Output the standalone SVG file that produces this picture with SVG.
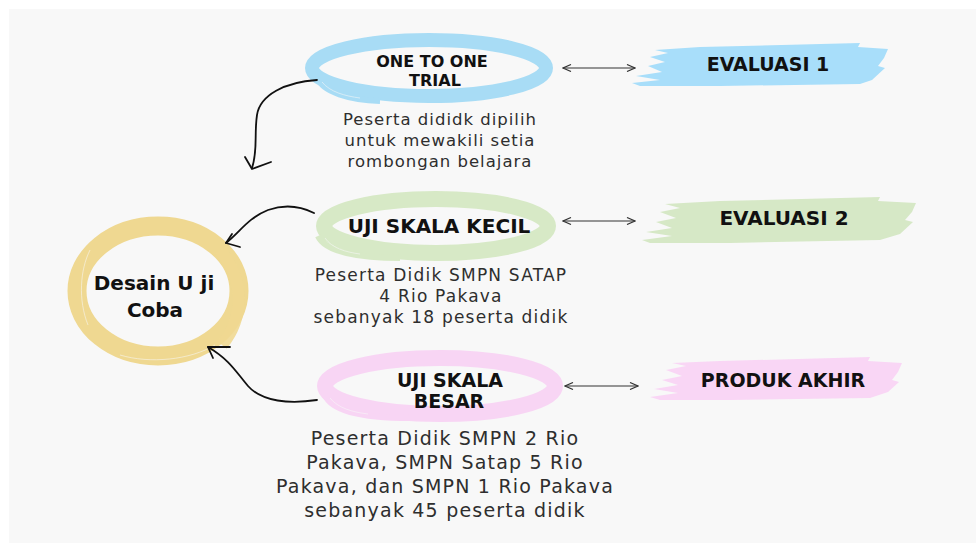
<svg xmlns="http://www.w3.org/2000/svg" width="976" height="543" viewBox="0 0 976 543">
  <defs>
    <style>
      .title{font-family:"DejaVu Sans",sans-serif;font-weight:bold;fill:#111;text-anchor:middle}
      .desc{font-family:"DejaVu Sans","Open Sans",sans-serif;fill:#2e2e2e;text-anchor:middle}
      .conn{fill:none;stroke:#111;stroke-width:1.8;stroke-linecap:round;stroke-linejoin:round}
      .dbl{fill:none;stroke:#333;stroke-width:1.2}
      .streak{fill:none;stroke:#f8f8f8;stroke-width:1;opacity:0.55}
    </style>
    <marker id="ah" viewBox="0 0 10 8" refX="9" refY="4" markerWidth="10" markerHeight="8" orient="auto-start-reverse" markerUnits="userSpaceOnUse">
      <path d="M1,0.5 L9,4 L1,7.5" fill="none" stroke="#333" stroke-width="1.2"/>
    </marker>
  </defs>
  <rect x="0" y="0" width="976" height="543" fill="#ffffff"/>
  <rect x="9" y="9" width="967" height="534" fill="#f8f8f8"/>

  <g id="node-desain">
    <ellipse cx="158" cy="291" rx="81" ry="65" fill="none" stroke="#efd891" stroke-width="19"/>
    <path d="M220,250 C245,280 244,318 222,345" fill="none" stroke="#efd891" stroke-width="12" opacity="0.9"/>
    <path class="streak" d="M90,250 C80,270 78,300 88,325"/>
    <path class="streak" d="M120,355 C150,364 190,360 215,345"/>
    <text class="title" x="154" y="290" font-size="20">Desain U ji</text>
    <text class="title" x="155" y="317" font-size="20">Coba</text>
  </g>

  <g id="node-onetoone">
    <ellipse cx="429" cy="68" rx="117" ry="28" fill="none" stroke="#a8dcf5" stroke-width="14"/>
    <path d="M318,78 C322,92 350,100 380,101" fill="none" stroke="#a8dcf5" stroke-width="6"/>
    <path class="streak" d="M322,82 C330,92 345,96 360,98"/>
    <text class="title" x="432" y="67" font-size="16">ONE TO ONE</text>
    <text class="title" x="435" y="86" font-size="16">TRIAL</text>
  </g>

  <g id="desc-onetoone">
    <text class="desc" x="440" y="125" font-size="16.5" letter-spacing="1">Peserta dididk dipilih</text>
    <text class="desc" x="440" y="146" font-size="16.5" letter-spacing="1">untuk mewakili setia</text>
    <text class="desc" x="440" y="167" font-size="16.5" letter-spacing="1">rombongan belajara</text>
  </g>

  <g id="node-eval1">
    <path d="M655,50 L700,47 L860,43 L858,47 L888,49 L884,58 L878,66 L885,68 L872,80 L860,84 L720,86 L640,86 L632,83 L660,80 L636,76 L662,72 L648,66 L665,62 L650,57 L668,53 Z" fill="#a8defa"/>
    <text class="title" x="768" y="71" font-size="19">EVALUASI 1</text>
  </g>

  <g id="node-kecil">
    <ellipse cx="436" cy="226" rx="112" ry="27" fill="none" stroke="#d7e9c6" stroke-width="16"/>
    <path d="M318,236 C325,252 360,258 400,258" fill="none" stroke="#d7e9c6" stroke-width="6"/>
    <path class="streak" d="M325,238 C332,248 345,252 360,254"/>
    <text class="title" x="439" y="233" font-size="20">UJI SKALA KECIL</text>
  </g>

  <g id="desc-kecil">
    <text class="desc" x="441" y="281" font-size="17" letter-spacing="1.2">Peserta Didik SMPN SATAP</text>
    <text class="desc" x="441" y="302" font-size="17" letter-spacing="1.2">4 Rio Pakava</text>
    <text class="desc" x="441" y="323" font-size="17" letter-spacing="1.2">sebanyak 18 peserta didik</text>
  </g>

  <g id="node-eval2">
    <path d="M665,204 L720,201 L880,197 L878,201 L916,203 L912,212 L905,220 L913,222 L900,234 L880,240 L730,243 L650,243 L642,240 L672,236 L646,232 L672,228 L656,222 L676,218 L660,212 L680,208 Z" fill="#d6e8c6"/>
    <text class="title" x="784" y="225" font-size="20">EVALUASI 2</text>
  </g>

  <g id="node-besar">
    <ellipse cx="440" cy="386" rx="115" ry="28" fill="none" stroke="#f8d5f4" stroke-width="16"/>
    <path d="M325,395 C332,412 365,418 410,418" fill="none" stroke="#f8d5f4" stroke-width="6"/>
    <path class="streak" d="M330,398 C338,408 352,412 368,414"/>
    <text class="title" x="450" y="387" font-size="19">UJI SKALA</text>
    <text class="title" x="449" y="408" font-size="19">BESAR</text>
  </g>

  <g id="desc-besar">
    <text class="desc" x="445" y="445" font-size="19" letter-spacing="1.2">Peserta Didik SMPN 2 Rio</text>
    <text class="desc" x="445" y="469" font-size="19" letter-spacing="1.2">Pakava, SMPN Satap 5 Rio</text>
    <text class="desc" x="445" y="493" font-size="19" letter-spacing="1.2">Pakava, dan SMPN 1 Rio Pakava</text>
    <text class="desc" x="445" y="517" font-size="19" letter-spacing="1.2">sebanyak 45 peserta didik</text>
  </g>

  <g id="node-produk">
    <path d="M672,363 L720,361 L870,357 L868,361 L902,363 L898,372 L892,380 L899,382 L888,392 L870,398 L730,400 L660,400 L650,397 L678,393 L654,389 L678,385 L662,380 L682,376 L666,370 L686,366 Z" fill="#f9d6f5"/>
    <text class="title" x="783" y="387" font-size="19">PRODUK AKHIR</text>
  </g>

  <g id="connectors">
    <line class="dbl" x1="563" y1="68" x2="635" y2="68" marker-start="url(#ah)" marker-end="url(#ah)"/>
    <line class="dbl" x1="563" y1="221" x2="635" y2="221" marker-start="url(#ah)" marker-end="url(#ah)"/>
    <line class="dbl" x1="565" y1="386" x2="638" y2="386" marker-start="url(#ah)" marker-end="url(#ah)"/>

    <path class="conn" d="M317,80 C285,82 260,95 257,115 C254,135 258,150 252,168"/>
    <path class="conn" d="M245,157 L252,169 L271,162"/>

    <path class="conn" d="M314,213 C300,206 285,204 268,210 C248,218 240,232 226,243"/>
    <path class="conn" d="M232,234 L226,243 L240,247"/>

    <path class="conn" d="M317,400 C290,404 262,402 248,386 C236,372 230,360 208,347"/>
    <path class="conn" d="M230,347 L208,347 L213,358"/>
  </g>
</svg>
